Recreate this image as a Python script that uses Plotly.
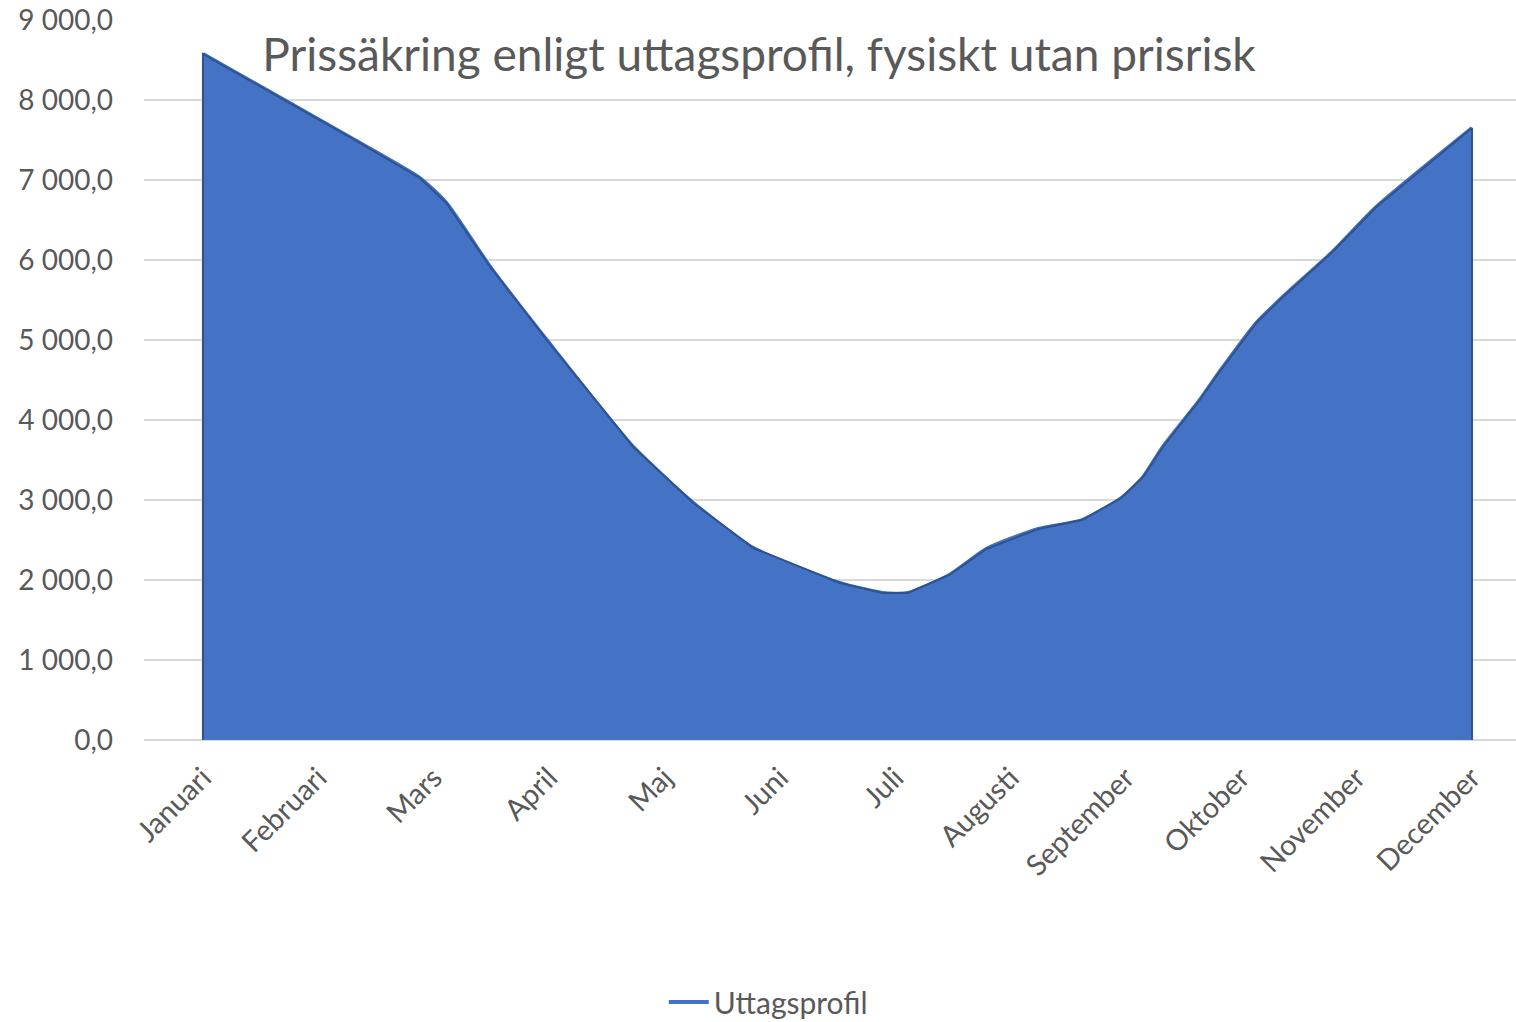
import plotly.graph_objects as go

# Month categories (tick labels)
manader = ["Januari", "Februari", "Mars", "April", "Maj", "Juni", "Juli",
           "Augusti", "September", "Oktober", "November", "December"]

# Time position of each observation, in months from Januari (0) to December (11)
tid_manad = [0.0, 1.27, 1.88, 2.11, 2.49, 2.98, 3.73, 4.25, 4.77, 5.52, 5.89,
             6.11, 6.47, 6.79, 7.24, 7.62, 7.96, 8.15, 8.32, 8.64, 8.81, 9.13,
             9.36, 9.79, 10.17, 11.0]

# Uttagsprofil values
uttag = [8575, 7538, 7025, 6713, 5913, 5000, 3663, 2963, 2400, 1963, 1838,
         1838, 2063, 2388, 2638, 2750, 3025, 3288, 3663, 4250, 4600, 5213,
         5538, 6100, 6663, 7650]

titel = "Prissäkring enligt uttagsprofil, fysiskt utan prisrisk"
serie_namn = "Uttagsprofil"

FONT = "Lato"
GREY = "#595959"

fig = go.Figure()

# line series (legend entry)
fig.add_trace(go.Scatter(
    x=tid_manad, y=uttag, mode="lines", name=serie_namn,
    line=dict(color="#4472C4", width=4, shape="spline", smoothing=0.6),
    showlegend=True, hoverinfo="skip",
))

# area series, closed polygon down to zero
area_x = [tid_manad[0]] + tid_manad + [tid_manad[-1]]
area_y = [0] + uttag + [0]
fig.add_trace(go.Scatter(
    x=area_x, y=area_y, mode="lines", fill="toself",
    fillcolor="#4472C4", line=dict(color="#2F528F", width=2),
    showlegend=False, name="Area",
))

fig.update_layout(
    width=1516, height=1022,
    paper_bgcolor="white", plot_bgcolor="white",
    margin=dict(l=144, r=0, t=20, b=282, autoexpand=False),
    separators=", ",
    font=dict(family=FONT, color=GREY, size=28),
    title=dict(text=titel, x=759 / 1516, xanchor="center", xref="container",
               y=1 - 55 / 1022, yanchor="middle", yref="container",
               font=dict(family=FONT, size=46, color=GREY)),
    showlegend=True,
    legend=dict(orientation="h", x=0.455, xanchor="center", y=-0.364,
                yanchor="middle", font=dict(family=FONT, size=30, color=GREY),
                itemwidth=40),
)

fig.update_xaxes(
    range=[-0.511, 11.381],
    tickmode="array", tickvals=list(range(len(manader))), ticktext=manader,
    tickangle=-45, showgrid=False, zeroline=False, showline=False,
    ticks="", ticklabelstandoff=14,
    tickfont=dict(family=FONT, size=29, color=GREY),
)
fig.update_yaxes(
    range=[0, 9000], dtick=1000, tickformat=",.1f",
    showgrid=True, gridcolor="#D9D9D9", gridwidth=1.5,
    zeroline=True, zerolinecolor="#D9D9D9", zerolinewidth=1.5,
    showline=False, ticks="", ticklabelstandoff=30,
    tickfont=dict(family=FONT, size=28, color=GREY),
)

fig.write_html(
    "out.html",
    config={"displayModeBar": False},
    post_script="document.body.style.margin='0';document.body.style.overflow='hidden';",
)
